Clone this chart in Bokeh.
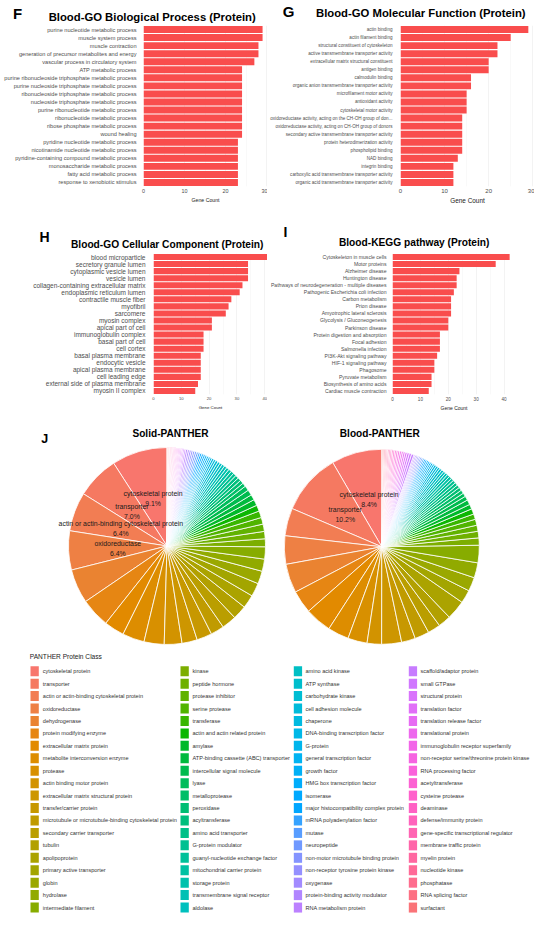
import math
from bokeh.plotting import figure
from bokeh.models import ColumnDataSource, FactorRange, Range1d, FixedTicker
from bokeh.layouts import column, row
from bokeh.core.properties import value
from bokeh.embed import file_html
from bokeh.resources import INLINE

FONT = "Liberation Sans"
BAR = "#F94D4D"

# ---------------- data ----------------
bp_terms = ["purine nucleotide metabolic process", "muscle system process", "muscle contraction",
            "generation of precursor metabolites and energy", "vascular process in circulatory system",
            "ATP metabolic process", "purine ribonucleoside triphosphate metabolic process",
            "purine nucleoside triphosphate metabolic process", "ribonucleoside triphosphate metabolic process",
            "nucleoside triphosphate metabolic process", "purine ribonucleotide metabolic process",
            "ribonucleotide metabolic process", "ribose phosphate metabolic process", "wound healing",
            "pyridine nucleotide metabolic process", "nicotinamide nucleotide metabolic process",
            "pyridine-containing compound metabolic process", "monosaccharide metabolic process",
            "fatty acid metabolic process", "response to xenobiotic stimulus"]
bp_counts = [29, 29, 28, 28, 27, 24, 24, 24, 24, 24, 24, 24, 24, 24, 23, 23, 23, 23, 23, 23]

mf_terms = ["actin binding", "actin filament binding", "structural constituent of cytoskeleton",
            "active transmembrane transporter activity", "extracellular matrix structural constituent",
            "antigen binding", "calmodulin binding", "organic anion transmembrane transporter activity",
            "microfilament motor activity", "antioxidant activity", "cytoskeletal motor activity",
            "oxidoreductase activity, acting on the CH-OH group of don...",
            "oxidoreductase activity, acting on CH-OH group of donors",
            "secondary active transmembrane transporter activity", "protein heterodimerization activity",
            "phospholipid binding", "NAD binding", "integrin binding",
            "carboxylic acid transmembrane transporter activity",
            "organic acid transmembrane transporter activity"]
mf_counts = [29, 25, 22, 22, 20, 20, 16, 16, 15, 15, 15, 14, 14, 14, 14, 14, 13, 12, 12, 12]

cc_terms = ["blood microparticle", "secretory granule lumen", "cytoplasmic vesicle lumen", "vesicle lumen",
            "collagen-containing extracellular matrix", "endoplasmic reticulum lumen",
            "contractile muscle fiber", "myofibril", "sarcomere", "myosin complex", "apical part of cell",
            "immunoglobulin complex", "basal part of cell", "cell cortex", "basal plasma membrane",
            "endocytic vesicle", "apical plasma membrane", "cell leading edge",
            "external side of plasma membrane", "myosin II complex"]
cc_counts = [41, 34, 34, 34, 32, 31, 28, 27, 26, 21, 21, 18, 18, 18, 17, 17, 17, 17, 16, 15]

kegg_terms = ["Cytoskeleton in muscle cells", "Motor proteins", "Alzheimer disease", "Huntington disease",
              "Pathways of neurodegeneration - multiple diseases", "Pathogenic Escherichia coli infection",
              "Carbon metabolism", "Prion disease", "Amyotrophic lateral sclerosis",
              "Glycolysis / Gluconeogenesis", "Parkinson disease", "Protein digestion and absorption",
              "Focal adhesion", "Salmonella infection", "PI3K-Akt signaling pathway",
              "HIF-1 signaling pathway", "Phagosome", "Pyruvate metabolism",
              "Biosynthesis of amino acids", "Cardiac muscle contraction"]
kegg_counts = [42, 37, 24, 23, 23, 22, 21, 21, 21, 20, 20, 17, 17, 17, 16, 15, 15, 14, 14, 13]

panther_classes = [
    "cytoskeletal protein", "transporter", "actin or actin-binding cytoskeletal protein", "oxidoreductase",
    "dehydrogenase", "protein modifying enzyme", "extracellular matrix protein",
    "metabolite interconversion enzyme", "protease", "actin binding motor protein",
    "extracellular matrix structural protein", "transfer/carrier protein",
    "microtubule or microtubule-binding cytoskeletal protein", "secondary carrier transporter", "tubulin",
    "apolipoprotein", "primary active transporter", "globin", "hydrolase", "intermediate filament",
    "kinase", "peptide hormone", "protease inhibitor", "serine protease", "transferase",
    "actin and actin related protein", "amylase", "ATP-binding cassette (ABC) transporter",
    "intercellular signal molecule", "lyase", "metalloprotease", "peroxidase", "acyltransferase",
    "amino acid transporter", "G-protein modulator", "guanyl-nucleotide exchange factor",
    "mitochondrial carrier protein", "storage protein", "transmembrane signal receptor", "aldolase",
    "amino acid kinase", "ATP synthase", "carbohydrate kinase", "cell adhesion molecule", "chaperone",
    "DNA-binding transcription factor", "G-protein", "general transcription factor", "growth factor",
    "HMG box transcription factor", "isomerase", "major histocompatibility complex protein",
    "mRNA polyadenylation factor", "mutase", "neuropeptide", "non-motor microtubule binding protein",
    "non-receptor tyrosine protein kinase", "oxygenase", "protein-binding activity modulator",
    "RNA metabolism protein",
    "scaffold/adaptor protein", "small GTPase", "structural protein", "translation factor",
    "translation release factor", "translational protein", "immunoglobulin receptor superfamily",
    "non-receptor serine/threonine protein kinase", "RNA processing factor", "acetyltransferase",
    "cysteine protease", "deaminase", "defense/immunity protein", "gene-specific transcriptional regulator",
    "membrane traffic protein", "myelin protein", "nucleotide kinase", "phosphatase",
    "RNA splicing factor", "surfactant"]

solid_pct = [9.1, 7.0, 6.4, 6.4, 5.6, 4.8, 3.3, 3.6, 3.3, 2.9,
             2.5, 2.5, 2.2, 2.4, 2.3, 2.2, 2.2, 2.1, 2.0, 2.0,
             1.3, 1.2, 1.2, 1.1, 1.1, 1.0, 1.0, 0.9, 0.9, 0.8,
             0.6, 0.6, 0.55, 0.55, 0.5, 0.5, 0.5, 0.45, 0.45, 0.45,
             0.4, 0.4, 0.4, 0.35, 0.35, 0.3, 0.3, 0.3, 0.3, 0.3,
             0.3, 0.3, 0.3, 0.3, 0.3, 0.3, 0.3, 0.3, 0.3, 0.3,
             0.25, 0.22, 0.2, 0.2, 0.18, 0.18, 0.16, 0.16, 0.15, 0.15,
             0.14, 0.14, 0.13, 0.13, 0.12, 0.12, 0.11, 0.11, 0.1, 0.1]

blood_pct = [8.4, 10.2, 4.6, 4.7, 4.8, 3.8, 4.4, 3.5, 3.2, 2.4,
             3.3, 2.3, 2.4, 2.1, 2.1, 3.2, 2.2, 2.3, 2.5, 2.9,
             1.2, 1.1, 1.0, 1.0, 0.9, 0.9, 0.8, 0.8, 0.7, 0.6,
             0.6, 0.55, 0.5, 0.5, 0.5, 0.45, 0.45, 0.45, 0.4, 0.4,
             0.4, 0.4, 0.35, 0.35, 0.35, 0.3, 0.3, 0.28, 0.28, 0.26,
             0.26, 0.25, 0.25, 0.24, 0.24, 0.23, 0.23, 0.22, 0.22, 0.2,
             0.4, 0.38, 0.36, 0.34, 0.32, 0.3, 0.3, 0.28, 0.28, 0.26,
             0.26, 0.24, 0.24, 0.22, 0.22, 0.2, 0.2, 0.2, 0.18, 0.16]

solid_label_min = 6.0
blood_label_min = 8.0


# ---------------- colours (ggplot default hue palette) ----------------
def hcl_hex(h, c=100.0, l=65.0):
    hr = math.radians(h)
    U, V = c * math.cos(hr), c * math.sin(hr)
    WY, Wu, Wv = 100.0, 0.1978398, 0.4683363
    Y = WY * (((l + 16) / 116) ** 3 if l > 7.999592 else l / 903.3)
    u = U / (13 * l) + Wu
    v = V / (13 * l) + Wv
    X = 9.0 * Y * u / (4 * v)
    Z = -X / 3 - 5 * Y + 3 * Y / v

    def g(t):
        t = 1.055 * t ** (1 / 2.4) - 0.055 if t > 0.00304 else 12.92 * t
        return max(0, min(255, int(round(255 * t))))
    r = g((3.240479 * X - 1.537150 * Y - 0.498535 * Z) / WY)
    gg = g((-0.969256 * X + 1.875992 * Y + 0.041556 * Z) / WY)
    b = g((0.055648 * X - 0.204043 * Y + 1.057311 * Z) / WY)
    return "#%02X%02X%02X" % (r, gg, b)


n_cls = len(panther_classes)
class_colors = [hcl_hex(15 + 360.0 * i / n_cls) for i in range(n_cls)]


def base_fig(W, H, **kw):
    p = figure(width=W, height=H, output_backend="svg", toolbar_location=None, **kw)
    p.outline_line_color = None
    p.background_fill_color = "white"
    p.border_fill_color = "white"
    return p


def pixel_fig(W, H):
    p = base_fig(W, H, x_range=Range1d(0, W), y_range=Range1d(0, H), min_border=0)
    p.axis.visible = False
    p.grid.visible = False
    return p


def add_text(p, xs, ys, texts, size, bold=False, align="center", color="#000000", y_offset=0):
    src = ColumnDataSource(dict(x=xs, y=ys, t=texts))
    p.text(x="x", y="y", text="t", source=src, text_font=value(FONT), text_font_size=size,
           text_font_style="bold" if bold else "normal", text_align=align,
           text_baseline="middle", text_color=color, y_offset=y_offset)


def header(W, hh, cfg):
    h = pixel_fig(W, hh)
    tx, ty = cfg["title_pos"]
    add_text(h, [tx], [hh - ty], [cfg["title"]], cfg["tfont"], bold=True)
    lx, ly = cfg["letter_pos"]
    add_text(h, [lx], [hh - ly], [cfg["letter"]], cfg["lfont"], bold=True)
    return h


def bar_panel(terms, counts, cfg):
    W, BH = cfg["W"], cfg["BH"]
    fl, fw, bt, fh = cfg["fl"], cfg["fw"], cfg["bt"], cfg["fh"]
    xmax = cfg["xmax"]
    p = base_fig(W, BH, y_range=FactorRange(factors=list(reversed(terms))),
                 x_range=Range1d(0, xmax),
                 min_border_left=fl, min_border_right=W - fl - fw,
                 min_border_top=bt, min_border_bottom=BH - bt - fh)
    src = ColumnDataSource(dict(term=terms, count=counts))
    p.hbar(y="term", left=0, right="count", height=0.86, fill_color=BAR, line_color=None, source=src)
    ticks = list(range(0, int(xmax) + 1, 10))
    minor = [t + 5 for t in ticks if t + 5 < xmax]
    p.xaxis.ticker = FixedTicker(ticks=ticks, minor_ticks=minor)
    for ax in (p.xaxis[0], p.yaxis[0]):
        ax.axis_line_color = None
        ax.major_tick_line_color = None
        ax.minor_tick_line_color = None
        ax.major_tick_out = 0
        ax.major_tick_in = 0
        ax.minor_tick_out = 0
        ax.minor_tick_in = 0
        ax.major_label_text_font = FONT
        ax.major_label_text_color = "#4D4D4D"
    p.yaxis.major_label_text_font_size = cfg["lab"]
    p.yaxis.major_label_standoff = cfg["lso"]
    p.xaxis.major_label_text_font_size = cfg["tick"]
    p.xaxis.major_label_standoff = cfg["tso"]
    p.xaxis.axis_label = "Gene Count"
    p.xaxis.axis_label_text_font = FONT
    p.xaxis.axis_label_text_font_size = cfg["gc"]
    p.xaxis.axis_label_text_font_style = "normal"
    p.xaxis.axis_label_text_color = "#1A1A1A"
    p.xaxis.axis_label_standoff = cfg["gso"]
    p.xgrid.grid_line_color = "#EBEBEB"
    p.xgrid.grid_line_width = 0.6
    p.xgrid.minor_grid_line_color = "#F3F3F3"
    p.xgrid.minor_grid_line_width = 0.5
    p.ygrid.grid_line_color = None
    return p


# row 1 (F, G): header 24 px + bars 182 px
HH1 = 24
hF = header(267, HH1, dict(title="Blood-GO Biological Process (Protein)", tfont="11.3px",
                           title_pos=(151.7, 16.5), letter="F", lfont="15px", letter_pos=(17, 12.6)))
hG = header(267, HH1, dict(title="Blood-GO Molecular Function (Protein)", tfont="11.3px",
                           title_pos=(153.3, 12.8), letter="G", lfont="15px", letter_pos=(21, 10.5)))
F = bar_panel(bp_terms, bp_counts, dict(
    W=267, BH=182, fl=143, fw=124, bt=1, fh=164, xmax=30.2,
    lab="5.6px", lso=7, tick="5.4px", tso=2, gc="5.2px", gso=1))
G = bar_panel(mf_terms, mf_counts, dict(
    W=267, BH=182, fl=132, fw=135, bt=1, fh=164, xmax=30.4,
    lab="4.6px", lso=8, tick="6px", tso=2, gc="6.4px", gso=1))

# row 2 (H, I): header 45 px + bars 167 px
HH2 = 45
hH = header(267, HH2, dict(title="Blood-GO Cellular Component (Protein)", tfont="10.2px",
                           title_pos=(166.7, 38.0), letter="H", lfont="14px", letter_pos=(44, 30)))
hI = header(267, HH2, dict(title="Blood-KEGG pathway (Protein)", tfont="10.2px",
                           title_pos=(146.7, 36.3), letter="I", lfont="14px", letter_pos=(18, 25)))
Hp = bar_panel(cc_terms, cc_counts, dict(
    W=267, BH=167, fl=153, fw=114, bt=2, fh=141, xmax=41.0,
    lab="6.5px", lso=8, tick="4.2px", tso=2, gc="4.4px", gso=2))
Ip = bar_panel(kegg_terms, kegg_counts, dict(
    W=267, BH=167, fl=122, fw=126, bt=2, fh=141, xmax=44.1,
    lab="5.1px", lso=6, tick="4.6px", tso=2, gc="5px", gso=1))


def pie_panel(pct, label_min, cfg):
    W, H = 267, 232
    p = pixel_fig(W, H)
    cx, cy, r = cfg["cx"], H - cfg["cy"], cfg["r"]
    total = float(sum(pct))
    starts, ends, cum = [], [], 0.0
    for v in pct:
        starts.append(math.pi / 2 + 2 * math.pi * cum / total)
        cum += v
        ends.append(math.pi / 2 + 2 * math.pi * cum / total)
    src = ColumnDataSource(dict(start=starts, end=ends, fill=class_colors, name=panther_classes))
    p.wedge(x=cx, y=cy, radius=r, start_angle="start", end_angle="end", direction="anticlock",
            fill_color="fill", line_color="white", line_width=0.8, source=src)
    lx, ly, names, pcts = [], [], [], []
    for i, v in enumerate(pct):
        if v >= label_min:
            mid = (starts[i] + ends[i]) / 2
            lx.append(cx + 0.5 * r * math.cos(mid))
            ly.append(cy + 0.5 * r * math.sin(mid))
            names.append(panther_classes[i])
            pcts.append("%.1f%%" % v)
    add_text(p, lx, ly, names, "6.9px", color="#1A1A1A", y_offset=-5)
    add_text(p, lx, ly, pcts, "6.9px", color="#1A1A1A", y_offset=5)
    add_text(p, [cfg["tx"]], [H - cfg["ty"]], [cfg["title"]], "10.1px", bold=True)
    if cfg.get("letter"):
        add_text(p, [cfg["lx"]], [H - cfg["ly"]], [cfg["letter"]], "12.5px", bold=True)
    return p


S = pie_panel(solid_pct, solid_label_min, dict(cx=166.5, cy=127.5, r=98.5, title="Solid-PANTHER",
                                              tx=170, ty=15, letter="J", lx=44.3, ly=20.7))
B = pie_panel(blood_pct, blood_label_min, dict(cx=114.3, cy=128.3, r=97.5, title="Blood-PANTHER",
                                              tx=112.3, ty=15))

# ---------------- legend ----------------
LW, LH = 534, 263
L = pixel_fig(LW, LH)
per_col = 20
sq_x = [30.0, 180.0, 293.3, 408.3]
tx_x = [42.3, 192.0, 305.0, 420.0]
row0, pitch = 20.7, 12.44
lgx, lgy, ltx = [], [], []
for i in range(n_cls):
    c, rr = divmod(i, per_col)
    lgx.append(sq_x[c] + 4.15)
    ltx.append(tx_x[c])
    lgy.append(LH - (row0 + rr * pitch))
lsrc = ColumnDataSource(dict(x=lgx, tx=ltx, y=lgy, name=panther_classes, fill=class_colors))
L.rect(x="x", y="y", width=8.3, height=10, fill_color="fill", line_color=None, source=lsrc)
L.text(x="tx", y="y", text="name", source=lsrc, text_font=value(FONT), text_font_size="5.55px",
       text_align="left", text_baseline="middle", text_color="#333333")
add_text(L, [29.3], [LH - 6.3], ["PANTHER Protein Class"], "6.6px", align="left", color="#222222")

layout = column(row(hF, hG), row(F, G), row(hH, hI), row(Hp, Ip), row(S, B), L)
open("out.html", "w").write(file_html(layout, INLINE))
